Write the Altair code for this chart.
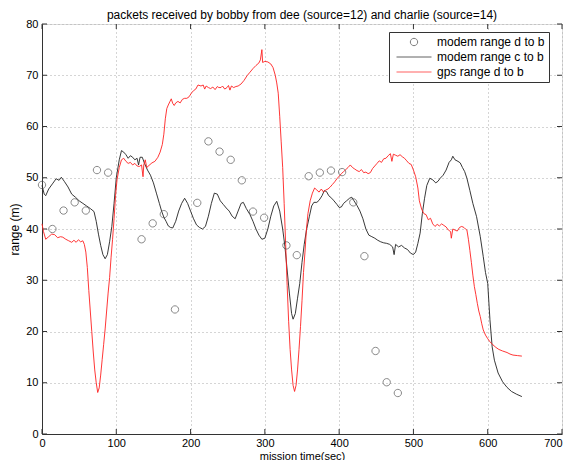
import altair as alt
import pandas as pd

# ---- data ----
pts_t = [0, 14, 29, 44, 59, 74, 89, 134, 149, 164, 179, 209, 224, 239, 254, 269, 284, 299,
         329, 343, 359, 374, 389, 404, 419, 434, 449, 464, 479]
pts_r = [48.6, 40.0, 43.6, 45.2, 43.6, 51.5, 51.0, 38.0, 41.1, 42.9, 24.3, 45.1, 57.1, 55.1, 53.5, 49.5, 43.4, 42.2,
         36.8, 34.9, 50.3, 51.0, 51.4, 51.1, 45.2, 34.7, 16.2, 10.1, 8.0]

c_t = [0, 3, 5, 9, 14, 19, 23, 26, 30, 35, 40, 45, 50, 55, 60, 65, 70, 73, 76, 79, 82, 85, 88, 91, 94, 97,
       100, 104, 107, 110, 113, 116, 119, 122, 125, 128, 130, 132, 135, 138, 142, 146, 150, 154, 158, 161, 164,
       167, 170, 173, 176, 180, 184, 188, 192, 196, 200, 204, 208, 212, 216, 220, 224, 228, 232, 236, 240, 244,
       248, 252, 256, 260, 264, 268, 271, 275, 280, 284, 288, 292, 296, 300, 304, 308, 312, 316, 320, 324, 327,
       330, 333, 336, 338, 341, 344, 347, 350, 353, 356, 360, 363, 366, 370, 373, 377, 380, 383, 386, 390, 393,
       397, 400, 403, 406, 410, 414, 417, 420, 424, 428, 432, 436, 440, 444, 448, 452, 456, 460, 464, 468, 472,
       474, 476, 480, 484, 488, 492, 496, 500, 503, 506, 509, 512, 515, 518, 522, 526, 530, 533, 536, 540, 544,
       548, 551, 553, 556, 560, 563, 566, 569, 572, 576, 580, 585, 590, 594, 597, 600, 603, 606, 609, 614, 620,
       626, 632, 639, 646]
c_r = [48.5, 46.8, 46.5, 47.8, 48.8, 49.8, 49.5, 50.1, 49.3, 48.2, 46.8, 46.2, 45.5, 45.0, 44.5, 44.0, 43.4,
       41.5, 39.0, 36.8, 35.0, 34.2, 35.0, 37.5, 40.5, 45.0,
       50.0, 53.5, 55.3, 55.0, 54.5, 53.8, 54.3, 54.0, 53.5, 53.8, 52.5, 54.0, 54.0, 52.8, 51.5, 50.5, 49.0, 47.0,
       45.0, 43.5, 42.3,
       41.5, 40.6, 40.3, 40.2, 41.5, 43.5, 45.0, 46.0, 45.0, 43.5, 42.0, 40.8, 40.3, 40.0, 40.5, 42.5, 45.0, 47.0,
       46.8, 45.5, 44.8,
       44.1, 43.5, 42.5, 42.0, 43.5, 45.0, 45.2, 44.0, 42.8, 41.5, 40.0, 38.8, 38.0, 38.2, 40.0, 42.5, 44.5, 45.4,
       43.5, 40.0, 36.6,
       32.0, 27.5, 23.5, 22.4, 23.5, 26.5, 29.4, 33.5, 37.0, 39.8, 42.5, 44.5, 45.2, 45.2, 45.6, 46.5, 47.5, 47.3,
       46.5, 46.0, 45.5,
       44.8, 44.2, 44.3, 45.0, 45.5, 46.0, 46.2, 45.5, 44.6, 43.5, 42.0, 40.0, 38.8, 38.5, 38.2, 37.8, 37.5, 37.3,
       37.2, 37.0, 36.5,
       35.0, 37.0, 36.5, 36.8, 36.3, 36.0, 35.3, 35.0, 35.5, 37.2, 39.2, 43.0, 46.0, 48.5, 49.9, 49.6, 49.0, 49.3,
       49.9, 50.5, 51.5,
       53.0, 53.5, 54.2, 53.5, 53.2, 52.9, 52.0, 51.2, 49.9, 47.5, 45.0, 42.4, 38.5, 34.6, 31.5, 29.4, 22.3, 17.0,
       14.4, 11.9, 10.2,
       9.1, 8.3, 7.75, 7.3]

g_t = [0, 2, 5, 9, 13, 17, 21, 25, 28, 32, 36, 40, 43, 46, 49, 52, 55, 57, 59, 61, 63, 65, 67, 69, 71, 73, 75,
       77, 79, 81, 83, 85, 87, 89, 91, 93, 95, 97, 99, 101, 104, 107, 110, 113, 116, 119, 122, 125, 128, 131,
       134, 136, 137, 139, 141, 144, 148, 152, 156, 159, 162, 164, 166, 168, 170, 172, 174, 176, 178, 180, 183,
       186, 189, 192, 195, 198, 201, 204, 207, 210, 214, 217, 219, 221, 224, 227, 230, 233, 236, 238, 241, 243,
       246, 249, 251, 253, 255, 258, 261, 264, 268, 272, 276, 280, 284, 288, 292, 294, 296, 297, 300, 304, 308,
       311, 314, 316, 318, 320, 322, 324, 326, 328, 330, 332, 334, 336, 338, 340, 342, 344, 346, 348, 350, 352,
       354, 356, 358, 361, 364, 367, 370, 373, 376, 379, 382, 385, 388, 391, 394, 397, 400, 403, 406, 409, 412,
       415, 418, 421, 424, 427, 430, 433, 436, 439, 442, 445, 448, 451, 454, 457, 460, 463, 466, 469, 471, 473,
       476, 479, 482, 485, 488, 491, 494, 497, 500, 503, 506, 508, 511, 514, 517, 520, 523, 526, 529, 532, 535,
       538, 541, 544, 547, 550, 551, 553, 556, 559, 562, 565, 568, 570, 572, 574, 576, 578, 580, 582, 584, 586,
       588, 590, 592, 594, 597, 600, 603, 607, 611, 615, 620, 626, 630, 634, 640, 646]
g_r = [41.0, 39.5, 38.0, 38.5, 39.0, 38.9, 38.3, 38.5, 38.4, 38.0, 37.7, 37.4, 37.8, 37.4, 37.9, 37.5, 37.7,
       37.0, 35.5, 32.5, 28.0, 24.0, 20.0, 16.0, 12.5, 10.0, 8.1,
       9.0, 11.5, 14.5, 17.5, 20.5, 24.0, 27.5, 30.5, 34.5, 38.0, 42.0, 46.5, 49.6, 52.0, 53.5, 53.8, 53.2, 52.8,
       53.0, 52.5, 52.8, 52.3, 52.2,
       52.5, 50.2, 52.5, 53.5, 52.0, 52.4, 52.9, 53.2, 54.0, 55.0, 56.5, 58.5, 61.5, 63.5, 64.2, 64.8, 65.4, 64.5,
       64.1, 64.6, 64.9,
       64.6, 65.3, 65.5, 65.5, 65.8, 66.5, 67.0, 67.3, 68.1, 67.9, 68.1, 67.3, 67.9, 67.6, 67.4, 67.7, 67.2, 67.8,
       67.6, 67.6, 67.9,
       67.3, 67.6, 68.0, 67.1, 67.9, 67.6, 67.8, 67.9, 68.3, 69.0, 69.9, 70.6, 71.3, 71.9, 72.4, 73.0, 75.0, 72.5,
       72.7, 72.6, 72.2,
       71.5, 70.0, 68.5, 66.5, 62.0, 57.0, 52.0, 45.0, 37.0, 29.0, 22.0, 16.5, 12.5, 9.5, 8.3, 9.5, 12.5, 16.5,
       21.0, 26.0, 31.5,
       35.5, 40.0, 43.0, 45.5, 47.0, 48.0, 47.6, 47.2, 47.8, 47.2, 47.6, 47.8, 48.2, 48.7, 49.2, 49.8, 50.3, 50.8,
       51.2, 51.6, 52.0,
       52.5, 52.0, 51.7, 51.4, 51.2, 51.6, 51.0, 51.1, 50.8, 51.0, 51.8, 52.3, 52.8, 53.3, 53.0, 53.7, 53.8, 54.3,
       54.7, 53.2, 54.6,
       54.4, 54.2, 54.5, 54.1, 53.8, 53.3, 52.8, 52.6, 51.5, 50.2, 48.0, 45.5, 43.9, 43.0, 42.8, 41.8, 42.1, 41.0,
       40.5, 40.9, 40.6,
       41.0, 40.7, 40.4, 39.8, 39.5, 38.2, 40.0, 39.8, 39.6, 40.3, 40.5, 40.3, 40.0, 39.8, 38.0, 35.8, 33.5, 31.0,
       28.8, 27.2, 25.5,
       24.0, 22.9, 21.5, 20.3, 19.3, 18.6, 18.0, 17.4, 16.9, 16.5, 16.2, 15.9, 15.6, 15.4, 15.3, 15.2]

series_names = ["modem range d to b", "modem range c to b", "gps range d to b"]
series_colors = ["#444444", "#222222", "#ff2020"]
x_ticks = [0, 100, 200, 300, 400, 500, 600, 700]
y_ticks = [0, 10, 20, 30, 40, 50, 60, 70, 80]

FONT = "Liberation Sans"
W, H = 520, 410

circle_path = "M -0.21,0 A 0.21,0.21 0 1,1 0.21,0 A 0.21,0.21 0 1,1 -0.21,0 Z"
line_path = "M -1,0 L 1,0"

lines_df = pd.concat([
    pd.DataFrame({"t": c_t, "r": c_r, "series": series_names[1]}),
    pd.DataFrame({"t": g_t, "r": g_r, "series": series_names[2]}),
])
pts_df = pd.DataFrame({"t": pts_t, "r": pts_r, "series": series_names[0]})

xs = alt.Scale(domain=[0, 700], nice=False, zero=False)
ys = alt.Scale(domain=[0, 80], nice=False, zero=False)

color = alt.Color("series:N", scale=alt.Scale(domain=series_names, range=series_colors),
                  legend=alt.Legend(title=None, orient="none", legendX=347, legendY=8,
                                    labelFont=FONT, labelFontSize=12, labelColor="black",
                                    strokeColor="#333333", fillColor="white", padding=4,
                                    symbolSize=1225, symbolStrokeWidth=1, clipHeight=12,
                                    rowPadding=3, symbolOffset=3, labelOffset=5, cornerRadius=0))
shape = alt.Shape("series:N", scale=alt.Scale(domain=series_names,
                                              range=[circle_path, line_path, line_path]),
                  legend=alt.Legend(title=None))

x_enc = alt.X("t:Q", scale=xs, title="mission time(sec)",
              axis=alt.Axis(values=x_ticks, labelFont=FONT, labelFontSize=11, labelColor="black",
                            titleFont=FONT, titleFontSize=11, titleFontWeight="normal", titleColor="black",
                            titlePadding=2, labelPadding=3, tickSize=0, domainColor="#333333",
                            gridColor="#aaaaaa", gridDash=[1, 3], labelFlush=False,
                            labelAlign=alt.expr("datum.value == 700 ? 'right' : 'center'")))
y_enc = alt.Y("r:Q", scale=ys, title="range (m)",
              axis=alt.Axis(values=y_ticks, labelFont=FONT, labelFontSize=11, labelColor="black",
                            titleFont=FONT, titleFontSize=12, titleFontWeight="normal", titleColor="black",
                            titlePadding=4, labelPadding=4, tickSize=0, domainColor="#333333",
                            gridColor="#aaaaaa", gridDash=[1, 3], labelFlush=False))

lines = alt.Chart(lines_df).mark_line(strokeWidth=0.9).encode(
    x=x_enc, y=y_enc, color=color, detail="series:N")
points = alt.Chart(pts_df).mark_point(filled=False, size=1225, strokeWidth=0.9).encode(
    x="t:Q", y="r:Q", color=color, shape=shape)

xt_df = pd.DataFrame({"v": x_ticks})
yt_df = pd.DataFrame({"v": y_ticks})
tick_col = "#333333"
xb = alt.Chart(xt_df).mark_rule(color=tick_col).encode(x="v:Q", y=alt.value(H), y2=alt.value(H - 5))
xtp = alt.Chart(xt_df).mark_rule(color=tick_col).encode(x="v:Q", y=alt.value(0), y2=alt.value(5))
yl = alt.Chart(yt_df).mark_rule(color=tick_col).encode(y="v:Q", x=alt.value(0), x2=alt.value(5))
yr = alt.Chart(yt_df).mark_rule(color=tick_col).encode(y="v:Q", x=alt.value(W), x2=alt.value(W - 5))

chart = alt.layer(xb, xtp, yl, yr, lines, points).properties(
    width=W, height=H,
    title=alt.TitleParams("packets received by bobby from dee (source=12) and charlie (source=14)",
                          font=FONT, fontSize=12, fontWeight="normal", color="black",
                          offset=5, dy=9),
    autosize=alt.AutoSizeParams(type="none"),
    padding={"left": 34, "top": 16, "right": 1, "bottom": 26},
).configure_view(stroke="#333333", strokeWidth=1).configure(background="white")

chart.save("out.html", embed_options={"renderer": "svg", "actions": False})
